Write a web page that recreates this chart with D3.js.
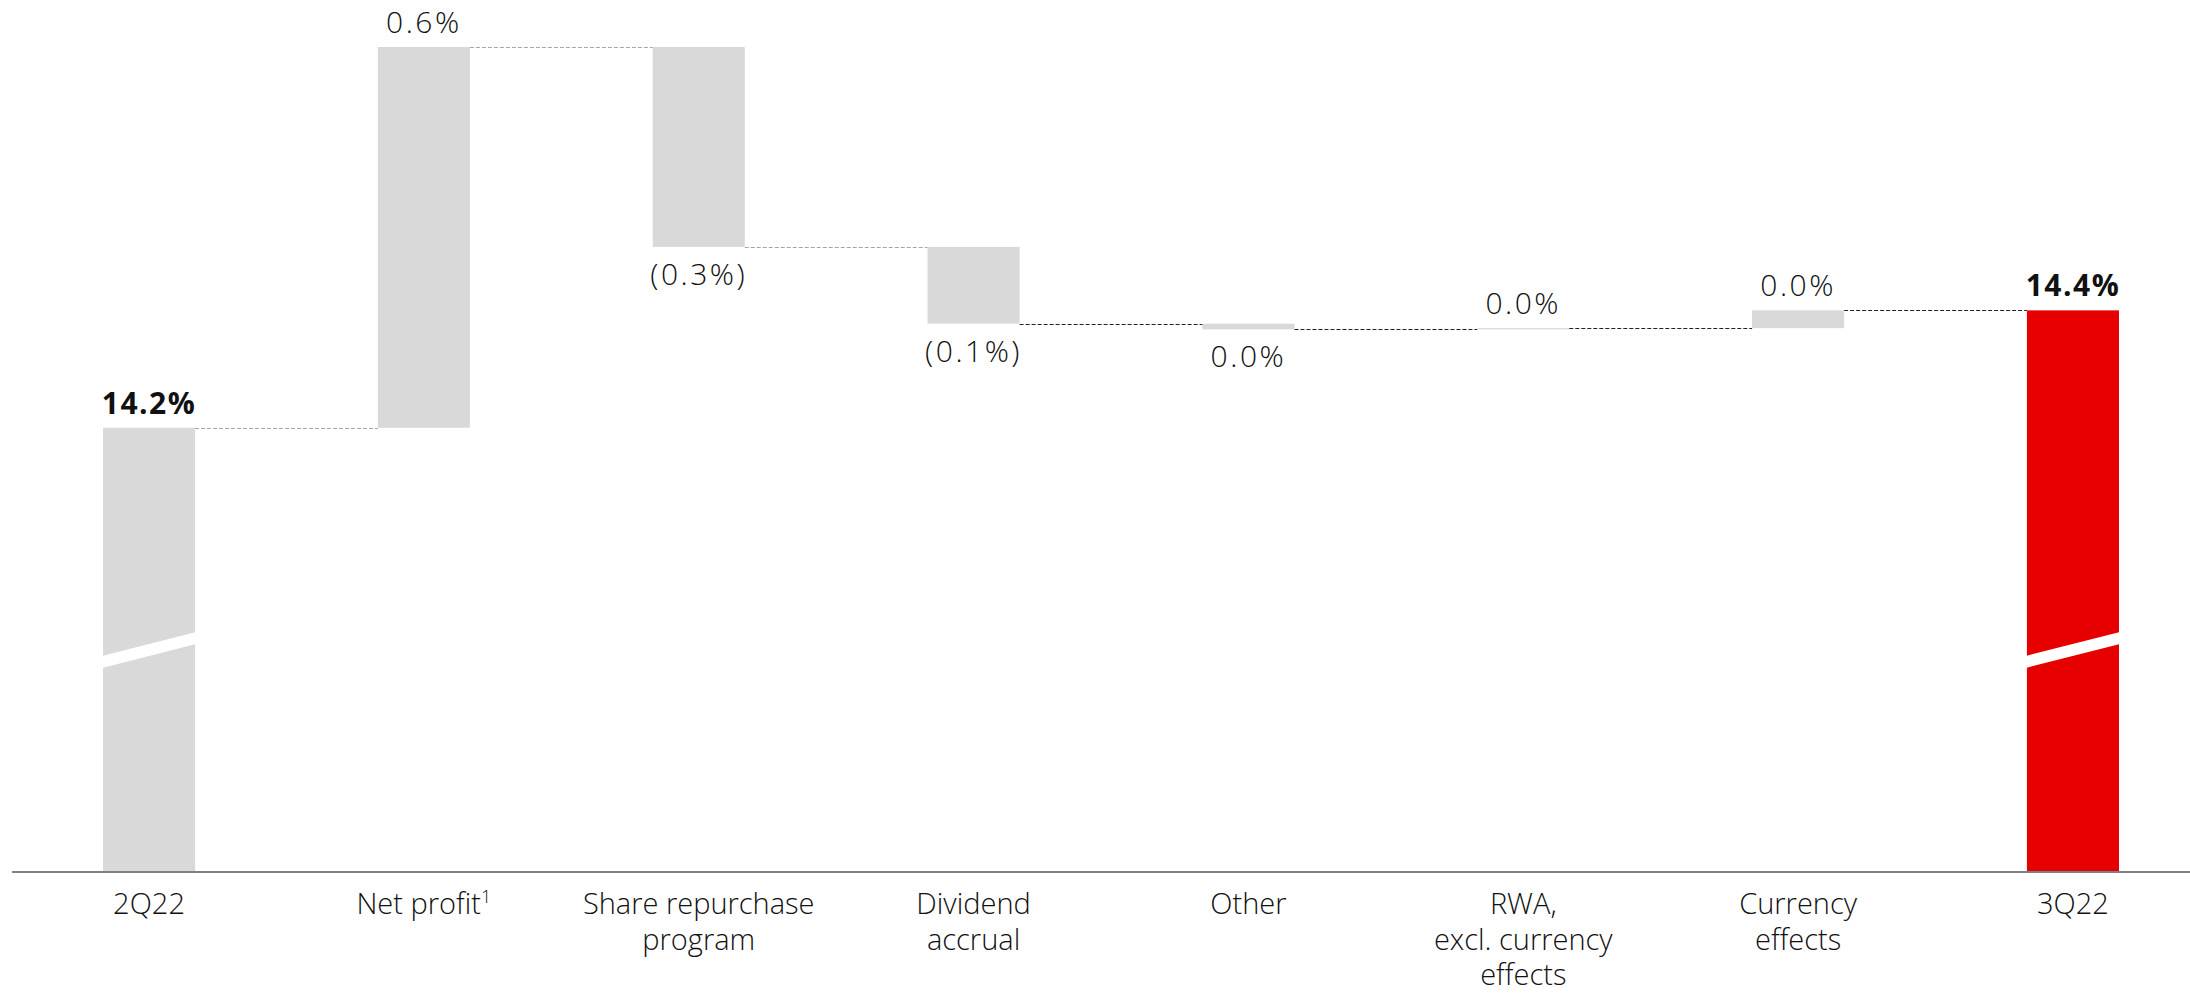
<!DOCTYPE html>
<html>
<head>
<meta charset="utf-8">
<script src="https://cdn.jsdelivr.net/npm/d3@7"></script>
<style>
  html, body { margin: 0; padding: 0; background: #fff; }
  svg { display: block; }
  text { font-family: "Open Sans", "Noto Sans", sans-serif; fill: #111; }
</style>
</head>
<body>
<svg id="chart" width="2190" height="996"></svg>
<script>
// ---- data ----
const categories = ["2Q22", "Net profit", "Share repurchase program", "Dividend accrual", "Other", "RWA, excl. currency effects", "Currency effects", "3Q22"];
const categoryLines = [["2Q22"], ["Net profit"], ["Share repurchase", "program"], ["Dividend", "accrual"], ["Other"], ["RWA,", "excl. currency", "effects"], ["Currency", "effects"], ["3Q22"]];
const categoryFootnotes = ["", "1", "", "", "", "", "", ""];
const kinds = ["total", "delta", "delta", "delta", "delta", "delta", "delta", "total"];
const deltas = [14.2, 0.6, -0.315, -0.121, -0.009, 0.002, 0.028, null];
const valueLabels = ["14.2%", "0.6%", "(0.3%)", "(0.1%)", "0.0%", "0.0%", "0.0%", "14.4%"];
const axisBase = 13.5;   // broken axis: bars start from here
const breakValue = 13.85;

// ---- layout ----
const W = 2190, H = 996;
const svg = d3.select("#chart");
const x = d3.scaleBand().domain(categories).range([103, 2119]).paddingInner(0.665).paddingOuter(0);
const y = d3.scaleLinear().domain([axisBase, 14.8]).range([872, 47]);

// compute waterfall
let running = 0;
const bars = categories.map((c, i) => {
  let start, end;
  if (kinds[i] === "total") {
    if (deltas[i] !== null) { running = deltas[i]; }
    start = axisBase; end = running;
  } else {
    start = running; running = running + deltas[i]; end = running;
  }
  return { cat: c, i, start, end, kind: kinds[i], level: running };
});

// bars
svg.append("g").selectAll("rect").data(bars).join("rect")
  .attr("x", d => x(d.cat))
  .attr("width", x.bandwidth())
  .attr("y", d => y(Math.max(d.start, d.end)))
  .attr("height", d => Math.max(0.8, Math.abs(y(d.start) - y(d.end))))
  .attr("fill", d => d.i === categories.length - 1 ? "#e60000" : "#d9d9d9");

// break marks on total bars
const tilt = 12, gap = 12;
bars.filter(d => d.kind === "total").forEach(d => {
  const x0 = x(d.cat) - 1, x1 = x(d.cat) + x.bandwidth() + 1;
  const yc = y(breakValue);
  svg.append("polygon")
    .attr("points", [
      [x0, yc + tilt - gap / 2], [x1, yc - tilt - gap / 2],
      [x1, yc - tilt + gap / 2], [x0, yc + tilt + gap / 2]
    ].map(p => p.join(",")).join(" "))
    .attr("fill", "#fff");
});

// connectors
for (let i = 0; i < bars.length - 1; i++) {
  const lvl = bars[i].level;
  svg.append("line")
    .attr("x1", x(bars[i].cat) + x.bandwidth())
    .attr("x2", x(bars[i + 1].cat))
    .attr("y1", Math.round(y(lvl)) + 0.5)
    .attr("y2", Math.round(y(lvl)) + 0.5)
    .attr("stroke", i < 3 ? "#a6a6a6" : "#222")
    .attr("stroke-width", 1)
    .attr("stroke-dasharray", "4,2");
}

// axis line
svg.append("line")
  .attr("x1", 12).attr("x2", W)
  .attr("y1", y(axisBase)).attr("y2", y(axisBase))
  .attr("stroke", "#808080").attr("stroke-width", 2);

// value labels
svg.append("g").selectAll("text").data(bars).join("text")
  .attr("x", d => x(d.cat) + x.bandwidth() / 2)
  .attr("y", d => {
    const top = y(Math.max(d.start, d.end)), bot = y(Math.min(d.start, d.end));
    return (d.kind === "total" || d.end >= d.start) ? top - 14 : bot + 38;
  })
  .attr("text-anchor", "middle")
  .attr("font-size", 30)
  .attr("letter-spacing", d => d.kind === "total" ? 1.5 : 2.5)
  .attr("font-weight", d => d.kind === "total" ? 700 : 300)
  .text((d, i) => valueLabels[i]);

// category labels
const cg = svg.append("g");
categories.forEach((c, i) => {
  const t = cg.append("text")
    .attr("x", x(c) + x.bandwidth() / 2)
    .attr("y", 914)
    .attr("text-anchor", "middle")
    .attr("font-size", 29)
    .attr("font-weight", 300);
  categoryLines[i].forEach((ln, j) => {
    t.append("tspan")
      .attr("x", x(c) + x.bandwidth() / 2)
      .attr("dy", j === 0 ? 0 : 35.5)
      .text(ln);
  });
  if (categoryFootnotes[i]) {
    t.select("tspan").append("tspan")
      .attr("font-size", 18).attr("dy", -11).text(categoryFootnotes[i]);
  }
});
</script>
</body>
</html>
